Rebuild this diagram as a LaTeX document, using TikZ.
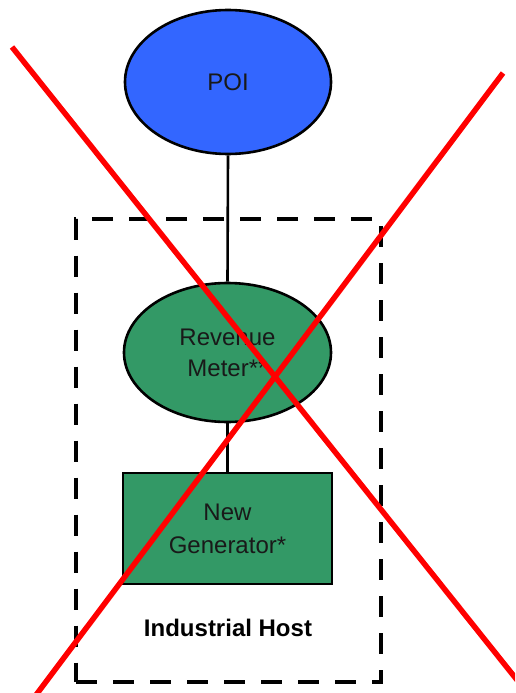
\documentclass[tikz,border=0pt]{standalone}
\usepackage{fontspec}
\setmainfont{Liberation Sans}
\usetikzlibrary{shapes.geometric}
\definecolor{poiblue}{HTML}{3366FF}
\definecolor{hostgreen}{HTML}{339966}
\tikzset{
  blob/.style={ellipse, draw=black, line width=2.6pt, inner sep=0pt, align=center,
    font=\fontsize{24}{31}\selectfont, text=black!90},
  genbox/.style={rectangle, draw=black, line width=2.6pt, inner sep=0pt, align=center,
    fill=hostgreen, font=\fontsize{24}{33}\selectfont, text=black!90},
  hostbox/.style={rectangle, draw=black, line width=4pt, dash pattern=on 21pt off 16pt, inner sep=0pt},
  link/.style={draw=black, line width=2.6pt},
  cross/.style={draw=red, line width=5.5pt}
}
\begin{document}
\begin{tikzpicture}[x=1pt,y=-1pt]
\useasboundingbox (0,0) rectangle (515,693);
\node[hostbox, minimum width=305pt, minimum height=463pt] (host) at (228.5,450) {};
\node[blob, fill=poiblue, minimum width=206pt, minimum height=144pt] (poi) at (228,82) {POI};
\node[blob, fill=hostgreen, minimum width=207pt, minimum height=139pt] (meter) at (227.5,352.5) {Revenue\\Meter**};
\node[genbox, minimum width=209pt, minimum height=111pt] (gen) at (227.5,528.5) {New\\Generator*};
\node[font=\bfseries\fontsize{24}{28}\selectfont] (hostlabel) at (228,628) {Industrial Host};
\draw[link] (poi.south) -- (meter.north);
\draw[link] (meter.south) -- (gen.north);
\coordinate (a1) at (12,47);
\coordinate (a2) at (525,690);
\coordinate (b1) at (503,73);
\coordinate (b2) at (36,695);
\begin{scope}
\clip (0,0) rectangle (515,693);
\draw[cross] (a1) -- (a2);
\draw[cross] (b1) -- (b2);
\end{scope}
\end{tikzpicture}
\end{document}
